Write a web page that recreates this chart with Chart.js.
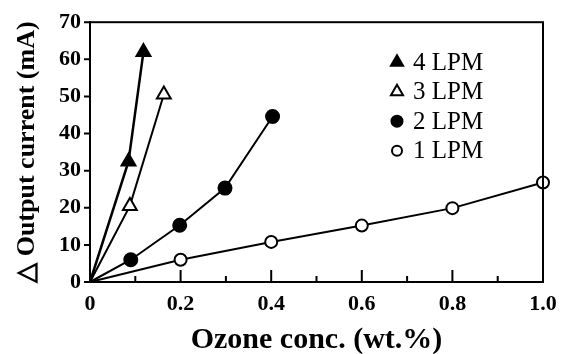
<!DOCTYPE html>
<html>
<head>
<meta charset="utf-8">
<title>Output current vs ozone conc.</title>
<script src="https://cdn.jsdelivr.net/npm/chart.js@4.4.0/dist/chart.umd.min.js"></script>
<style>
  body { margin: 0; background: #fff; }
</style>
</head>
<body>
<canvas id="canvas" width="567" height="354"></canvas>
<script>
// series, ozone conc. (wt.%) vs delta output current (mA)
var seriesLabels = ["4 LPM", "3 LPM", "2 LPM", "1 LPM"];
var lpm4X = [0, 0.085, 0.118];
var lpm4Y = [0, 32.5, 62];
var lpm3X = [0, 0.088, 0.163];
var lpm3Y = [0, 20.5, 50.5];
var lpm2X = [0, 0.09, 0.198, 0.298, 0.403];
var lpm2Y = [0, 6, 15.3, 25.3, 44.6];
var lpm1X = [0, 0.2, 0.4, 0.6, 0.8, 1.0];
var lpm1Y = [0, 6, 10.8, 15.2, 19.9, 26.8];

var serif = "'Liberation Serif', 'Times New Roman', serif";

function pts(xs, ys) {
  var out = [];
  for (var i = 0; i < xs.length; i++) out.push({x: xs[i], y: ys[i]});
  return out;
}

function series(label, xs, ys, style, fill, radius, width) {
  // the origin is a plain line start, no marker
  var radii = xs.map(function(v, i) { return i === 0 ? 0 : radius; });
  return {
    label: label,
    data: pts(xs, ys),
    borderColor: "#000",
    borderWidth: width,
    pointStyle: style,
    pointRadius: radii,
    pointHoverRadius: radii,
    markerSize: radius,
    pointBackgroundColor: fill,
    pointBorderColor: "#000",
    pointBorderWidth: 2,
    tension: 0,
    clip: false
  };
}

// box, inward x ticks, outward y ticks, legend inside the plot
var extras = {
  id: "extras",
  afterDraw: function(chart) {
    var ctx = chart.ctx, a = chart.chartArea;
    var xs = chart.scales.x, ys = chart.scales.y;
    ctx.save();
    ctx.strokeStyle = "#000";
    ctx.lineWidth = 2;
    ctx.strokeRect(a.left, a.top, a.right - a.left, a.bottom - a.top);
    ctx.beginPath();
    xs.ticks.forEach(function(t) {
      var px = xs.getPixelForValue(t.value);
      var major = Math.round(t.value * 10) % 2 === 0;
      ctx.moveTo(px, a.bottom);
      ctx.lineTo(px, a.bottom - (major ? 12 : 6));
    });
    ys.ticks.forEach(function(t) {
      var py = ys.getPixelForValue(t.value);
      ctx.moveTo(a.left, py);
      ctx.lineTo(a.left - 6, py);
    });
    ctx.stroke();

    var lx = a.right - 146, ly = a.top + 40;
    ctx.font = "25px " + serif;
    ctx.textBaseline = "middle";
    ctx.textAlign = "left";
    chart.data.datasets.forEach(function(ds, i) {
      var y = ly + i * 29.5;
      ctx.fillStyle = ds.pointBackgroundColor;
      ctx.strokeStyle = "#000";
      ctx.lineWidth = 2;
      Chart.helpers.drawPoint(ctx, {pointStyle: ds.pointStyle, radius: ds.markerSize - 1, borderWidth: 2, rotation: 0}, lx, y);
      ctx.fillStyle = "#000";
      ctx.fillText(ds.label, lx + 16, y + 1);
    });
    ctx.restore();
  }
};

var ctx = document.getElementById("canvas").getContext("2d");
new Chart(ctx, {
  type: "line",
  data: {
    datasets: [
      series(seriesLabels[0], lpm4X, lpm4Y, "triangle", "#000", 8, 2.5),
      series(seriesLabels[1], lpm3X, lpm3Y, "triangle", "#fff", 8, 2),
      series(seriesLabels[2], lpm2X, lpm2Y, "circle", "#000", 6.5, 2),
      series(seriesLabels[3], lpm1X, lpm1Y, "circle", "#fff", 6, 2)
    ]
  },
  options: {
    responsive: false,
    animation: false,
    events: [],
    layout: { padding: { top: 18, right: 24, left: 0, bottom: 0 } },
    plugins: { legend: { display: false }, tooltip: { enabled: false } },
    scales: {
      x: {
        type: "linear",
        min: 0, max: 1,
        grid: { display: false, drawTicks: false },
        border: { display: true, color: "#000", width: 2 },
        ticks: {
          stepSize: 0.1, autoSkip: false, maxRotation: 0, padding: 9,
          color: "#000",
          font: { family: serif, size: 22, weight: "bold" },
          callback: function(v) {
            if (Math.round(v * 10) % 2 !== 0) return "";
            return v === 0 ? "0" : v.toFixed(1);
          }
        },
        title: {
          display: true, text: "Ozone conc. (wt.%)", color: "#000",
          font: { family: serif, size: 30, weight: "bold" },
          padding: { top: 0, bottom: -4 }
        },
        afterFit: function(s) { s.height = 72; }
      },
      y: {
        min: 0, max: 70,
        grid: { display: false, drawTicks: false },
        border: { display: true, color: "#000", width: 2 },
        ticks: {
          stepSize: 10, padding: 9, color: "#000",
          font: { family: serif, size: 22, weight: "bold" }
        },
        title: {
          display: true, text: "\u25B3 Output current (mA)", color: "#000",
          font: { family: serif, size: 26, weight: "bold" },
          padding: { top: 12, bottom: 0 }
        },
        afterFit: function(s) { s.width = 90; }
      }
    }
  },
  plugins: [extras]
});
</script>
</body>
</html>
